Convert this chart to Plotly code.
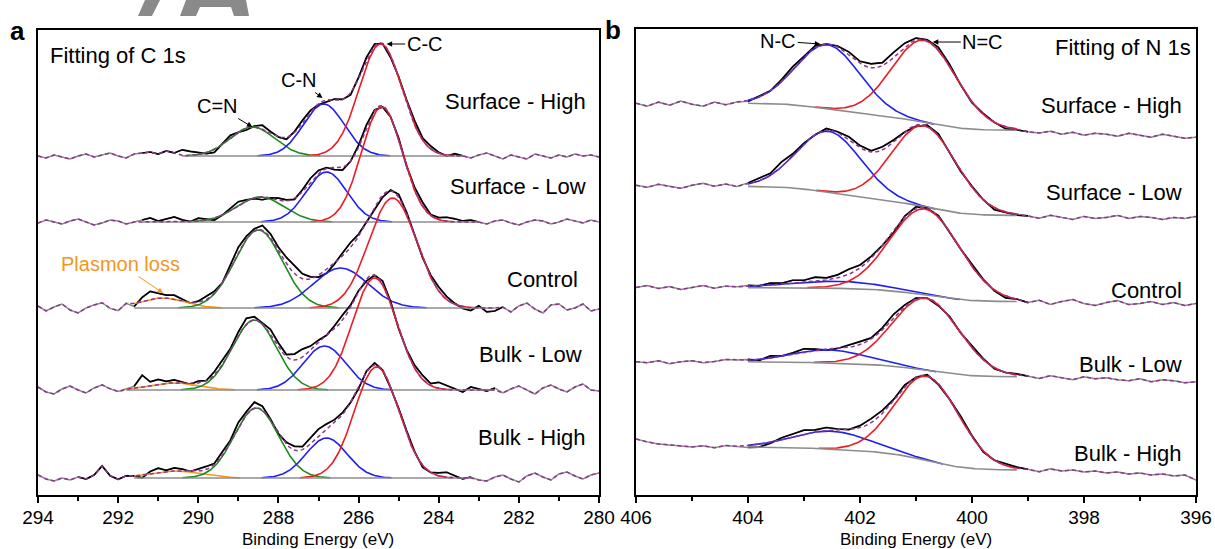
import math
import numpy as np
import plotly.graph_objects as go

# ------------------------------------------------------------------ data
# Panel a : C 1s  (energy grid 294 -> 280 eV, 0.2 eV step)
C_E_HIGH, C_E_LOW = 294.0, 280.0
N_E_HIGH, N_E_LOW = 406.0, 396.0
E_STEP = 0.2

c_labels = ["Surface - High", "Surface - Low", "Control", "Bulk - Low", "Bulk - High"]
c_baseline = [339, 273, 187, 105, 17]          # flat background level (a.u.)
# fitted components: (centre eV, height a.u., FWHM eV)
c_peak_CdN = [(288.65, 29, 1.3), (288.45, 25, 1.4), (288.5, 78, 1.4), (288.6, 70, 1.3), (288.55, 70, 1.3)]
c_peak_CN = [(286.87, 52, 1.2), (286.8, 50, 1.2), (286.45, 40, 1.6), (286.85, 44, 1.25), (286.8, 40, 1.2)]
c_peak_CC = [(285.45, 112, 1.25), (285.42, 115, 1.2), (285.15, 110, 1.4), (285.6, 112, 1.3), (285.55, 111, 1.3)]
c_peak_plasmon = [None, None, (290.9, 10, 1.3), (290.6, 7, 1.4), (290.6, 7, 1.5)]
c_fit_range = [(290.4, 283.4), (291.4, 283.0), (291.6, 282.6), (291.8, 282.6), (291.6, 283.2)]
c_raw_range = [(291.4, 283.4), (291.4, 283.0), (291.6, 282.4), (291.6, 282.6), (293.0, 283.2)]
# measured minus fit (a.u.), 71 points from 294 to 280 eV
c_resid_surface_high = [0, -2, 1, -1, -3, 0, 2, -1, 1, 3, 0, -2, 2, 3,
                        4, 2, 5, 3, 6, 4, 2, -1, -3, 1, 3, 0, -2, 1, 4, 2, 0, -2, 1, 3,
                        2, -1, -2, 1, 0, -2, 1, 3, 2, 0, -2, 1, 3, 4, 2, 3, 1, -1, 2, 0,
                        -2, 1, 3, 0, -3, 1, -1, -3, 2, 0, -2, 1, -1, 2, 0, 1, -1]
c_resid_surface_low = [-1, 2, 0, -2, 1, 3, 0, -3, -1, 2, 1, -2, 0,
                       2, 4, 1, 3, 5, 2, 0, 3, 1, -2, 0, 2, 4, 1, -1, -3, 0, 2, 1, -1,
                       2, 4, 3, 1, -2, -3, 0, 2, 3, 1, -1, 0, 2, 1, 3, 4, 1, 2, 4, 3, 1, 2, 0,
                       -2, 1, 2, -1, -3, 0, 2, 1, -2, 0, 3, 1, -1, 2, 0]
c_resid_control = [2, -3, 1, 4, -2, -5, 0, 3, 5, -1, -4, 2,
                   -3, 4, 8, 5, 3, 4, 2, -1, 1, 3, 2, 0, 4, 6, 3, 2, 5, 4, 3, 6,
                   8, 5, 2, -2, -4, -1, 3, 5, 2, 0, -3, -2, 1, 3, 1, -1, 0, 2, 4, 3,
                   1, -2, -3, 2, -4, -3, 1,
                   -4, 2, 5, -1, -5, 3, 4, -2, 0, 4, -3, -1]
c_resid_bulk_low = [3, -2, -4, 1, 4, 0, -3, 2, 5, 1, -2, 0,
                    2, 12, 4, 5, 2, 3, 1, -1, 2, 0, 3, 5, 2, 4, 6, 3, 1, 5, 4, 2,
                    6, 8, 4, 2, 0, 3, 5, 2, 1, -2, 0, 3, 2, -1, 1, 3, 4, 2, 6, 4,
                    1, -2, 3, 1, -1, 2,
                    -3, 1, 4, 0, -4, 2, 5, 1, -2, 3, 6, 0, -1]
c_resid_bulk_high = [3, -1, -3, 0, -2,
                     1, -1, 3, 12, 2, -2, 1, 0, -3, 2, 4, 1, 3, 2, 0, 2, 3, 1, 4, 2,
                     5, 3, 6, 4, 1, -1, 2, 4, 3, 6, 7, 5, 3, 2, 0, -2, 1, 2, 0, -1,
                     2, 3, 1, -2, 0, 3, 5, 2, -1, 1,
                     -2, -3, 1, 3, -1, -4, 2, 5, 1, -2, 4, 6, 2, -1, 3, 5]
c_residuals = [c_resid_surface_high, c_resid_surface_low, c_resid_control,
               c_resid_bulk_low, c_resid_bulk_high]

# Panel b : N 1s  (energy grid 406 -> 396 eV, 0.2 eV step)
n_labels = ["Surface - High", "Surface - Low", "Control", "Bulk - Low", "Bulk - High"]
n_bg_high = [391, 308, 207, 133, 48]   # Shirley background, high-BE side
n_bg_low = [364, 279, 193, 118, 25]    # Shirley background, low-BE side
n_peak_NC = [(402.57, 64, 1.35), (402.55, 61, 1.35), (402.4, 7, 2.0), (402.55, 13, 1.6), (402.5, 18, 1.6)]
n_peak_NdC = [(400.85, 82, 1.35), (400.85, 81, 1.35), (400.84, 86, 1.45), (400.82, 72, 1.4), (400.8, 84, 1.35)]
n_fit_range = [(404.0, 399.2)] * 5
n_raw_range = [(404.0, 399.0)] * 5
n_resid_surface_high = [0, -3, 1, -2, 2, -1, -3, 1, -2, 0,
                        -1, 1, 0, 2, 3, 1, 2, 0, 1, 3, 2, 4, 3, 5, 4, 2, 1, 3, 2, 0, -1, 1, 0, -2, -1,
                        -2, -3, -1, -4, -2, -5, -3, -4, -6, -3, -5, -7, -4, -6, -8, -7]
n_resid_surface_low = [1, -1, 2, 0, -2, 1, 3, 0, 2, -1,
                       1, 3, 2, 5, 2, 1, 0, 2, 1, 3, 2, 1, 3, 2, 0, -1, 1, 2, 0, -1, 1, 0, -2, 0, -1,
                       -1, -3, 0, -2, -4, -1, -3, -2, 0, -3, -1, -2, -4, -2, -3, -1]
n_resid_control = [0, 2, -1, 1, -2, 0, 2, -1, 1, 0,
                   1, 0, 2, 1, 3, 2, 4, 2, 3, 5, 3, 2, 0, -2, 1, 2, 0, 1, -1, 0, 2, 1, -1, -2, 0,
                   -2, 1, -3, 0, 2, -2, -4, -1, 1, -3, -2, 0, -3, -1, -4, -2]
n_resid_bulk_low = [0, -1, 1, -2, 0, 1, -1, 0, 2, 1,
                    1, -1, 2, 0, 1, 3, 1, -1, 0, 2, 3, 1, 2, 4, 2, 1, 0, -1, 1, 0, 2, 1, -1, 0, 1,
                    0, -2, 1, -1, -3, 0, -2, -1, -3, -4, -2, -5, -3, -4, -6, -5]
n_resid_bulk_high = [8, 5, 3, 2, 1, 0, 1, -1, 1, 0,
                     -2, -3, -1, 2, 3, 4, 2, 3, 1, 0, 2, 4, 3, 1, 2, 0, 1, -1, 0, 2, 1, -1, 0, 2, 1,
                     0, -2, 1, -1, 0, -2, -1, -3, -2, -4, -3, -5, -4, -6, -5, -10]
n_residuals = [n_resid_surface_high, n_resid_surface_low, n_resid_control,
               n_resid_bulk_low, n_resid_bulk_high]

c_ticks = [294, 292, 290, 288, 286, 284, 282, 280]
n_ticks = [406, 404, 402, 400, 398, 396]

# ------------------------------------------------------------------ styles
RED = "#ec1c24"
BLUE = "#1f1ff0"
GREEN = "#1d8a1d"
ORANGE = "#f7941d"
GRAY = "#8c8c8c"
PURPLE = "#8e358e"
FONT = "Liberation Sans, Arial, sans-serif"
SQ2 = math.sqrt(2.0)
erf_v = np.vectorize(math.erf)


def gauss(E, peak):
    c, h, fw = peak
    s = fw / 2.3548
    return h * np.exp(-0.5 * ((E - c) / s) ** 2)


def shirley(E, peaks, lo, hi):
    num = np.zeros_like(E)
    tot = 0.0
    for c, h, fw in peaks:
        s = fw / 2.3548
        a = h * s
        num += a * 0.5 * (1 + erf_v((E - c) / (s * SQ2)))
        tot += a
    return lo + (hi - lo) * num / tot


fig = go.Figure()


def add_spectrum(E, Ef, resid, comps, bg_fn, fit_rng, raw_rng, xa, ya):
    all_peaks = [p for p, col in comps]
    model = bg_fn(E) + sum(gauss(E, p) for p in all_peaks)
    raw = model + np.array(resid, dtype=float)
    fhi, flo = fit_rng
    rhi, rlo = raw_rng
    common = dict(xaxis=xa, yaxis=ya, mode="lines", showlegend=False, hoverinfo="skip")
    # full-range measured spectrum (grey)
    fig.add_trace(go.Scatter(x=E, y=raw, line=dict(color=GRAY, width=1.5), **common))
    # measured data in the fitted window (black)
    m = (E <= rhi + 1e-9) & (E >= rlo - 1e-9)
    fig.add_trace(go.Scatter(x=E[m], y=raw[m], line=dict(color="black", width=1.7), **common))
    # components
    mf = (Ef <= fhi + 1e-9) & (Ef >= flo - 1e-9)
    Efit = Ef[mf]
    bg_fit = bg_fn(Efit)
    for p, col in comps:
        g = gauss(Efit, p)
        k = g > 0.25
        fig.add_trace(go.Scatter(x=Efit[k], y=(bg_fit + g)[k],
                                 line=dict(color=col, width=1.6), **common))
    # background
    fig.add_trace(go.Scatter(x=Efit, y=bg_fit, line=dict(color=GRAY, width=1.6), **common))
    # envelope (dashed purple) joined to raw outside window
    env = bg_fit + sum(gauss(Efit, p) for p in all_peaks)
    left = E > fhi + 1e-9
    right = E < flo - 1e-9
    xs = np.concatenate([E[left], Efit, E[right]])
    ys = np.concatenate([raw[left], env, raw[right]])
    fig.add_trace(go.Scatter(x=xs, y=ys, line=dict(color=PURPLE, width=1.5, dash="4px,3px"), **common))


# panel a
Ec = np.round(np.arange(C_E_HIGH, C_E_LOW - 1e-6, -E_STEP), 2)
Ecf = np.round(np.arange(C_E_HIGH, C_E_LOW - 1e-6, -0.02), 3)
for i in range(5):
    comps = []
    if c_peak_plasmon[i] is not None:
        comps.append((c_peak_plasmon[i], ORANGE))
    comps += [(c_peak_CdN[i], GREEN), (c_peak_CN[i], BLUE), (c_peak_CC[i], RED)]
    b = c_baseline[i]
    add_spectrum(Ec, Ecf, c_residuals[i], comps, lambda E, b=b: np.full_like(E, b, dtype=float),
                 c_fit_range[i], c_raw_range[i], "x", "y")

# panel b
En = np.round(np.arange(N_E_HIGH, N_E_LOW - 1e-6, -E_STEP), 2)
Enf = np.round(np.arange(N_E_HIGH, N_E_LOW - 1e-6, -0.02), 3)
for i in range(5):
    comps = [(n_peak_NC[i], BLUE), (n_peak_NdC[i], RED)]
    pk = [n_peak_NC[i], n_peak_NdC[i]]
    lo, hi = n_bg_low[i], n_bg_high[i]
    add_spectrum(En, Enf, n_residuals[i], comps,
                 lambda E, pk=pk, lo=lo, hi=hi: shirley(E, pk, lo, hi),
                 n_fit_range[i], n_raw_range[i], "x2", "y2")

# ------------------------------------------------------------------ layout
W, H = 1215, 549


def px(x):
    return x / W


def py(y):
    return (H - y) / H


xcommon = dict(showline=True, linecolor="black", linewidth=2, mirror=True, showgrid=False,
               zeroline=False, ticks="outside", ticklen=6, tickwidth=2, tickcolor="black",
               tickfont=dict(family=FONT, size=19, color="black"), automargin=False,
               minor=dict(ticks="outside", ticklen=4, tickwidth=2, tickcolor="black", dtick=1),
               ticklabelstandoff=-2)
ycommon = dict(showline=True, linecolor="black", linewidth=2, mirror=True, showgrid=False,
               zeroline=False, showticklabels=False, ticks="", range=[0, 465], automargin=False)

fig.update_layout(
    width=W, height=H, margin=dict(l=0, r=0, t=0, b=0),
    paper_bgcolor="white", plot_bgcolor="white", showlegend=False,
    xaxis=dict(domain=[px(38), px(599)], range=[C_E_HIGH, C_E_LOW], tickmode="array",
               tickvals=c_ticks, ticktext=[str(t) for t in c_ticks], anchor="y", **xcommon),
    yaxis=dict(domain=[py(495), py(30)], anchor="x", **ycommon),
    xaxis2=dict(domain=[px(636), px(1196)], range=[N_E_HIGH, N_E_LOW], tickmode="array",
                tickvals=n_ticks, ticktext=[str(t) for t in n_ticks], anchor="y2", **xcommon),
    yaxis2=dict(domain=[py(495), py(29)], anchor="x2", **ycommon),
)

# faint grey watermark fragments at top of the page
fig.add_shape(type="path", xref="paper", yref="paper", layer="below",
              path="M %f,%f L %f,%f L %f,%f L %f,%f Z" % (px(145), py(0), px(160), py(0),
                                                          px(152), py(16), px(138), py(16)),
              fillcolor="#8a8a8a", line=dict(width=0))
fig.add_shape(type="path", xref="paper", yref="paper", layer="below",
              path="M %f,%f L %f,%f L %f,%f L %f,%f L %f,%f L %f,%f L %f,%f L %f,%f Z" % (
                  px(180), py(16), px(186), py(0), px(246), py(0), px(249), py(16),
                  px(234), py(16), px(231), py(7), px(200), py(7), px(196), py(16)),
              fillcolor="#8a8a8a", line=dict(width=0))

ann = []


def text(x, y, s, size=22, xanchor="center", color="black", bold=False):
    ann.append(dict(x=px(x), y=py(y), xref="paper", yref="paper", text=("<b>%s</b>" % s) if bold else s,
                    showarrow=False, xanchor=xanchor, yanchor="middle",
                    font=dict(family=FONT, size=size, color=color)))


text(318, 539, "Binding Energy (eV)", size=17)
text(916, 539, "Binding Energy (eV)", size=17)
text(17, 31, "a", size=26, bold=True)
text(613, 30, "b", size=26, bold=True)
text(48, 56, "Fitting of C 1s", size=22, xanchor="left")
text(1193, 48, "Fitting of N 1s", size=22, xanchor="right")

a_label_y = [102, 186, 279, 354, 437]
a_label_x = [588, 588, 580, 584, 588]
b_label_y = [105, 192, 290, 364, 453]
for i in range(5):
    text(a_label_x[i], a_label_y[i], c_labels[i], size=22, xanchor="right")
    text(1184, b_label_y[i], n_labels[i], size=22, xanchor="right")


def arrow(xref, yref, xt, yt, s, ax, ay, color="black"):
    ann.append(dict(x=xt, y=yt, xref=xref, yref=yref, text=s, showarrow=True,
                    ax=ax, ay=ay, arrowhead=2, arrowsize=1.1, arrowwidth=1, arrowcolor=color,
                    standoff=0, startstandoff=0,
                    font=dict(family=FONT, size=20, color=color)))


arrow("x", "y", 288.65, 368, "C=N", -35, -21)
arrow("x", "y", 286.9, 397, "C-N", -24, -18)
arrow("x", "y", 285.3, 451, "C-C", 38, 0)
arrow("x", "y", 290.88, 202, "Plasmon loss", -43, -29, color=ORANGE)
arrow("x2", "y2", 402.71, 450, "N-C", -42, -3)
arrow("x2", "y2", 400.70, 452, "N=C", 50, 0)

fig.update_layout(annotations=ann)
fig.write_html("out.html")
